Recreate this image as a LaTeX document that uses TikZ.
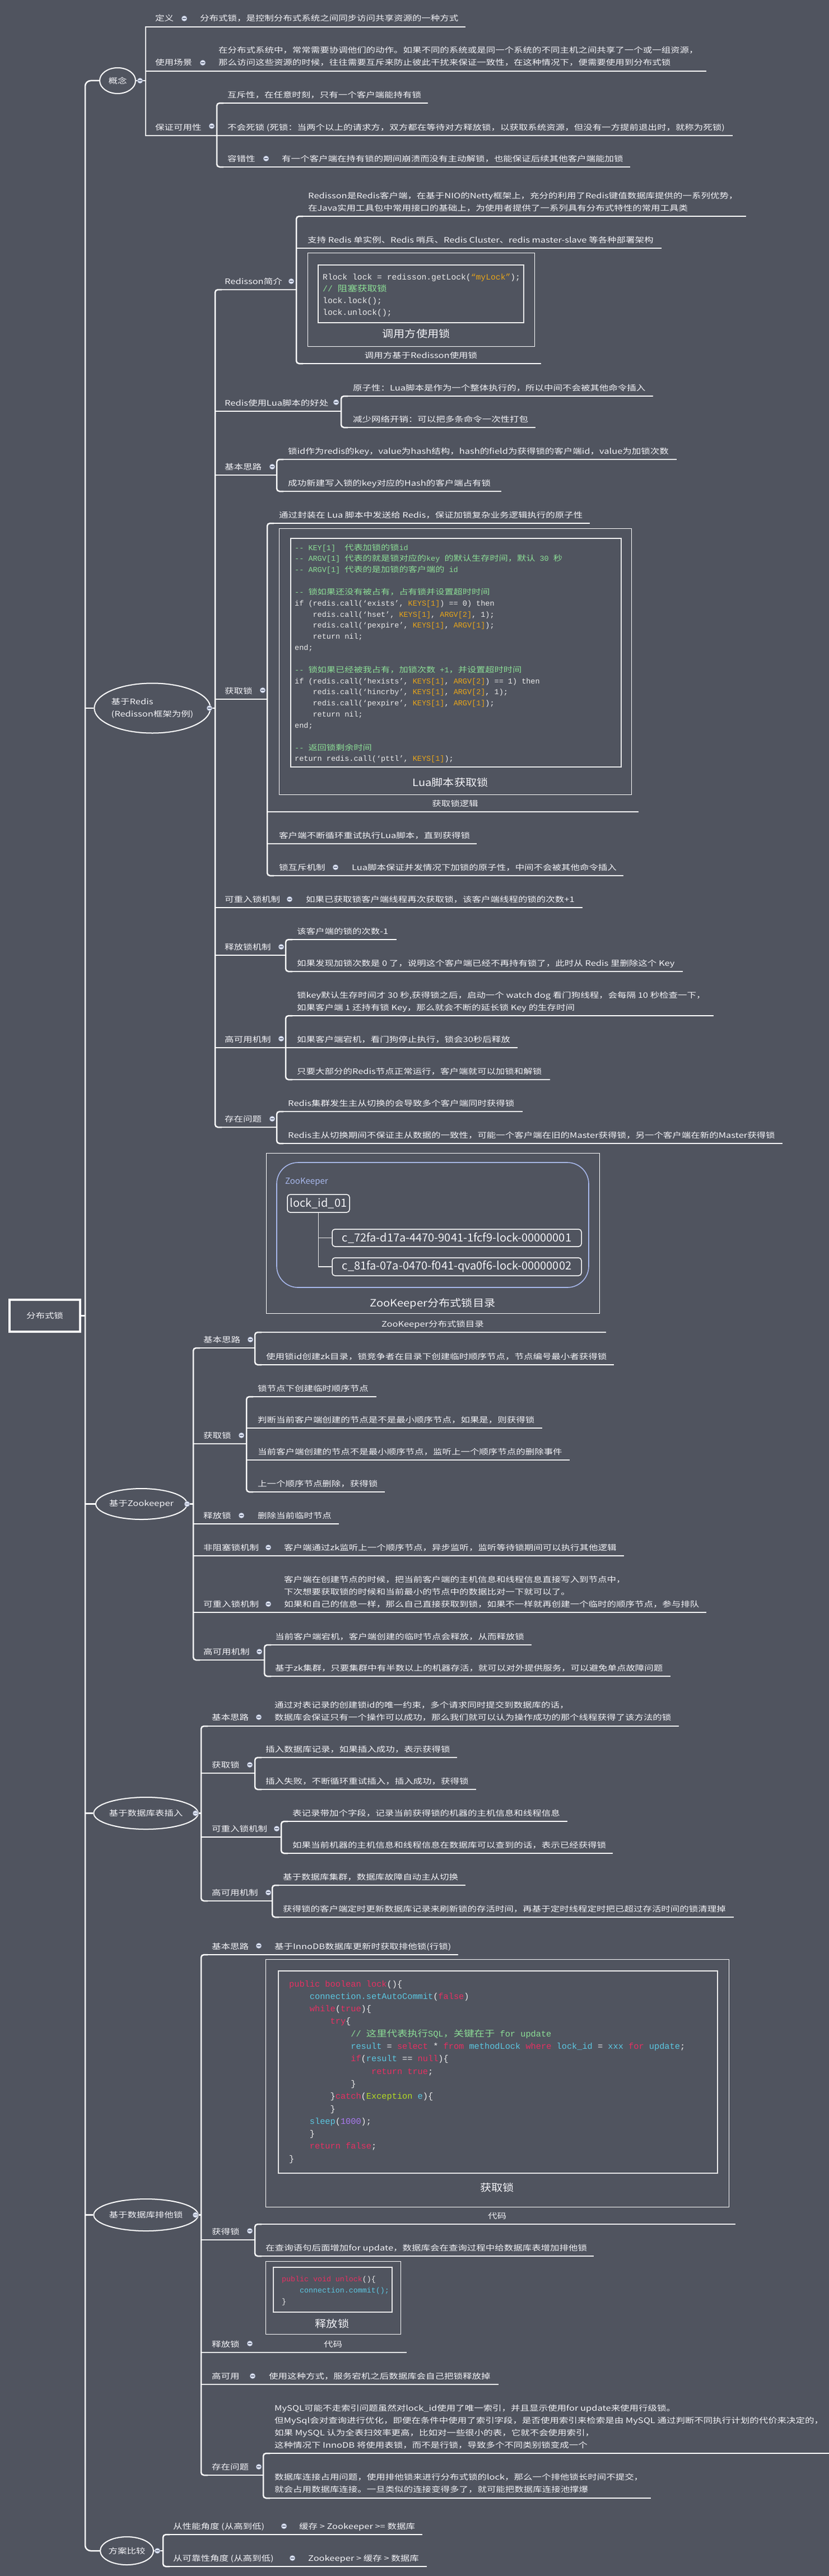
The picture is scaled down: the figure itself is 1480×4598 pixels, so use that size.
\documentclass[tikz,border=0pt]{standalone}
\usepackage{fontspec}
\usetikzlibrary{shapes.geometric}
\setmainfont{Noto Sans CJK SC}
\newfontfamily\cjk{Noto Sans CJK SC}[FakeStretch=1.22]
\newfontfamily\cjkcap{Noto Sans CJK SC}[FakeStretch=1.12]
\newfontfamily\cjkcode{Noto Sans CJK SC}[FakeStretch=1.2]
\newfontfamily\codef{Liberation Mono}
\definecolor{bg}{RGB}{80,84,95}
\definecolor{fg}{RGB}{243,243,247}
\definecolor{codefg}{RGB}{236,236,236}
\definecolor{cgreen}{RGB}{140,222,150}
\definecolor{corange}{RGB}{232,165,25}
\definecolor{cpink}{RGB}{232,48,98}
\definecolor{ccyan}{RGB}{92,200,226}
\definecolor{clime}{RGB}{180,220,35}
\definecolor{cpurple}{RGB}{170,122,240}
\definecolor{zkblue}{RGB}{168,184,236}
\definecolor{icf}{RGB}{224,230,245}
\definecolor{icd}{RGB}{110,118,140}
\newcommand\hlg[1]{\textcolor{cgreen}{#1}}
\newcommand\hlo[1]{\textcolor{corange}{#1}}
\newcommand\hlp[1]{\textcolor{cpink}{#1}}
\newcommand\hlc[1]{\textcolor{ccyan}{#1}}
\newcommand\hll[1]{\textcolor{clime}{#1}}
\newcommand\hlv[1]{\textcolor{cpurple}{#1}}
\newcommand\zh[1]{{\cjkcode #1}}
\newcommand\ia{\phantom{xxxx}}
\newcommand\UL[4]{\draw[uline] (#2,#3) -- (#1.east |- 0,#3) -- ++(#4,0);}
\newcommand\BR[3]{\draw[uline, rounded corners=5pt] (#1+12,#2) -- (#1,#2) -- (#1,#3) -- (#1+12,#3);}
\newcommand\IC[3]{\node[icon] (#1) at (#2,#3) {};}
\begin{document}
\begin{tikzpicture}[x=1pt,y=-1pt,
  uline/.style={draw=white, line width=2.5pt},
  txt/.style={font=\cjk\fontsize{13.5}{22}\selectfont, text=fg, inner sep=0pt, anchor=base west},
  captxt/.style={font=\cjkcap\fontsize{18}{22}\selectfont, text=fg, inner sep=0pt, anchor=base},
  circ/.style={ellipse, draw=white, line width=2pt, fill=bg, inner sep=0pt, align=left, font=\cjk\fontsize{13.5}{22}\selectfont, text=fg},
  rootbox/.style={draw=white, line width=3.2pt, fill=bg, inner sep=0pt, font=\cjk\fontsize{13.5}{22}\selectfont, text=fg},
  imgbox/.style={draw=white, line width=1pt, inner sep=0pt},
  codebox/.style={draw=white!88!gray, line width=1.8pt, inner sep=0pt},
  code/.style={inner sep=0pt, anchor=base west, text=codefg},
  zkframe/.style={draw=zkblue, line width=1.6pt, rounded corners=38pt, inner sep=0pt},
  zkbox/.style={draw=white, line width=1.5pt, rounded corners=5pt, inner sep=0pt, font=\fontsize{20}{22}\selectfont, text=fg},
  zklab/.style={font=\fontsize{15}{17}\selectfont, text=zkblue, anchor=base west, inner sep=0pt},
  zkline/.style={draw=white!85!gray, line width=1.5pt},
  icon/.style={circle, fill=icf, draw=icd, line width=0.6pt, minimum size=10pt, inner sep=0pt,
    path picture={\draw[icd, line width=1.3pt] ([xshift=2.3pt]path picture bounding box.west) -- ([xshift=-2.3pt]path picture bounding box.east);}}
]
\useasboundingbox (0,0) rectangle (1480,4598);
\fill[bg] (0,0) rectangle (1480,4598);

% ---------- root, trunk, main circles
\node[rootbox, minimum width=126pt, minimum height=57pt] (root) at (80,2348.5) {分布式锁};
\node[circ, minimum width=64pt, minimum height=46pt] (gn) at (210,144) {概念};
\node[circ, minimum width=186pt, minimum height=89pt] (rd) at (272,1264) {基于Redis\\(Redisson框架为例)};
\node[circ, minimum width=147pt, minimum height=55pt] (zk) at (252.5,2684.5) {基于Zookeeper};
\node[circ, minimum width=163pt, minimum height=57pt] (dbi) at (260.5,3236.5) {基于数据库表插入};
\node[circ, minimum width=163pt, minimum height=57pt] (dbx) at (260.5,3953.5) {基于数据库排他锁};
\node[circ, minimum width=95pt, minimum height=50pt] (cmp) at (226.5,4553) {方案比较};
\draw[uline, rounded corners=10pt] (gn.west) -- (152,144) -- (152,4553) -- (cmp.west);
\draw[uline] (root.east) -- (152,2348.5);
\draw[uline] (152,1264) -- (rd.west);
\draw[uline] (152,2684.5) -- (zk.west);
\draw[uline] (152,3236.5) -- (dbi.west);
\draw[uline] (152,3953.5) -- (dbx.west);

% ---------- 概念
\draw[uline] (gn.east) -- (260,144);
\draw[uline] (272,48) -- (260,48) -- (260,242) -- (272,242);
\IC{gni}{250}{144}
\node[txt] (a1) at (277,38) {定义};
\node[txt] (a1t) at (357,38) {分布式锁，是控制分布式系统之间同步访问共享资源的一种方式};
\IC{a1i}{329}{33}
\UL{a1t}{260}{48}{12}
\node[txt] (a2) at (277,117) {使用场景};
\node[txt] (a2t) at (390,95) {\vtop{\baselineskip=22pt\hbox{在分布式系统中，常常需要协调他们的动作。如果不同的系统或是同一个系统的不同主机之间共享了一个或一组资源，}\hbox{那么访问这些资源的时候，往往需要互斥来防止彼此干扰来保证一致性，在这种情况下，便需要使用到分布式锁}}};
\IC{a2i}{362}{112}
\UL{a2t}{260}{127}{14}
\node[txt] (a3) at (277,232) {保证可用性};
\IC{a3i}{378}{225}
\draw[uline] (260,242) -- (387,242);
\BR{387}{184}{298}
\node[txt] (a31) at (406,174) {互斥性，在任意时刻，只有一个客户端能持有锁};
\UL{a31}{393}{184}{12}
\node[txt] (a32) at (406,232) {不会死锁 (死锁：当两个以上的请求方，双方都在等待对方释放锁，以获取系统资源，但没有一方提前退出时，就称为死锁)};
\UL{a32}{387}{242}{14}
\node[txt] (a33) at (406,288) {容错性};
\IC{a33i}{475}{283}
\node[txt] (a33t) at (503,288) {有一个客户端在持有锁的期间崩溃而没有主动解锁，也能保证后续其他客户端能加锁};
\UL{a33t}{393}{298}{12}

% ---------- 基于Redis
\draw[uline] (rd.east) -- (384,1264);
\BR{384}{517}{2012}
\IC{rdi}{374}{1264}
% Redisson简介
\node[txt] (b1) at (401,507) {Redisson简介};
\IC{b1i}{520}{502}
\draw[uline] (390,517) -- (529,517);
\BR{529}{386}{649}
\node[txt] (b11) at (550,354) {\vtop{\baselineskip=22pt\hbox{Redisson是Redis客户端，在基于NIO的Netty框架上，充分的利用了Redis键值数据库提供的一系列优势，}\hbox{在Java实用工具包中常用接口的基础上，为使用者提供了一系列具有分布式特性的常用工具类}}};
\UL{b11}{535}{386}{14}
\node[txt] (b12) at (549,433) {支持 Redis 单实例、Redis 哨兵、Redis Cluster、redis master-slave 等各种部署架构};
\UL{b12}{529}{443}{14}
\node[imgbox, minimum width=405pt, minimum height=167pt] (b13img) at (751.5,534.5) {};
\node[codebox, minimum width=367pt, minimum height=103pt] (b13code) at (751.5,524.5) {};
\node[code, font=\codef\fontsize{14.7}{21}\selectfont] (b13c) at (576,499) {\vtop{\baselineskip=21pt
\hbox{Rlock lock = redisson.getLock(\hlo{“myLock”});}
\hbox{\hlg{// \zh{阻塞获取锁}}}
\hbox{lock.lock();}
\hbox{lock.unlock();}}};
\node[captxt] (b13cap) at (743,602) {调用方使用锁};
\node[txt, anchor=base] (b13) at (751.5,639) {调用方基于Redisson使用锁};
\draw[uline] (535,649) -- (b13img.east |- 0,649) -- ++(11,0);
% Lua好处
\node[txt] (b2) at (401,724) {Redis使用Lua脚本的好处};
\IC{b2i}{600}{718}
\draw[uline] (384,734) -- (609,734);
\BR{609}{707}{763}
\node[txt] (b21) at (630,697) {原子性：Lua脚本是作为一个整体执行的，所以中间不会被其他命令插入};
\UL{b21}{615}{707}{13}
\node[txt] (b22) at (630,753) {减少网络开销：可以把多条命令一次性打包};
\UL{b22}{615}{763}{13}
% 基本思路
\node[txt] (b3) at (401,838) {基本思路};
\IC{b3i}{486}{833}
\draw[uline] (384,848) -- (494,848);
\BR{494}{820}{877}
\node[txt] (b31) at (514,810) {锁id作为redis的key，value为hash结构，hash的field为获得锁的客户端id，value为加锁次数};
\UL{b31}{500}{820}{14}
\node[txt] (b32) at (514,867) {成功新建写入锁的key对应的Hash的客户端占有锁};
\UL{b32}{500}{877}{19}
% 获取锁
\node[txt] (b4) at (401,1238) {获取锁};
\IC{b4i}{469}{1232}
\draw[uline] (384,1248) -- (477,1248);
\BR{477}{934}{1563}
\node[txt] (b41) at (498,924) {通过封装在 Lua 脚本中发送给 Redis，保证加锁复杂业务逻辑执行的原子性};
\UL{b41}{483}{934}{12}
\node[imgbox, minimum width=629pt, minimum height=475pt] (b42img) at (812.5,1180.5) {};
\node[codebox, minimum width=590pt, minimum height=408pt] (b42code) at (814,1165) {};
\node[code, font=\codef\fontsize{13.5}{19.84}\selectfont] (b42c) at (526,982) {\vtop{\baselineskip=19.84pt
\hbox{\hlg{-{}- KEY[1]\ \ \zh{代表加锁的锁}id}}
\hbox{\hlg{-{}- ARGV[1] \zh{代表的就是锁对应的}key \zh{的默认生存时间，默认} 30 \zh{秒}}}
\hbox{\hlg{-{}- ARGV[1] \zh{代表的是加锁的客户端的} id}}
\hbox{}
\hbox{\hlg{-{}- \zh{锁如果还没有被占有，占有锁并设置超时时间}}}
\hbox{if (redis.call(‘exists’, \hlo{KEYS[1]}) == 0) then}
\hbox{\ia redis.call(‘hset’, \hlo{KEYS[1]}, \hlo{ARGV[2]}, 1);}
\hbox{\ia redis.call(‘pexpire’, \hlo{KEYS[1]}, \hlo{ARGV[1]});}
\hbox{\ia return nil;}
\hbox{end;}
\hbox{}
\hbox{\hlg{-{}- \zh{锁如果已经被我占有，加锁次数} +1\zh{，并设置超时时间}}}
\hbox{if (redis.call(‘hexists’, \hlo{KEYS[1]}, \hlo{ARGV[2]}) == 1) then}
\hbox{\ia redis.call(‘hincrby’, \hlo{KEYS[1]}, \hlo{ARGV[2]}, 1);}
\hbox{\ia redis.call(‘pexpire’, \hlo{KEYS[1]}, \hlo{ARGV[1]});}
\hbox{\ia return nil;}
\hbox{end;}
\hbox{}
\hbox{\hlg{-{}- \zh{返回锁剩余时间}}}
\hbox{return redis.call(‘pttl’, \hlo{KEYS[1]});}}};
\node[captxt] (b42cap) at (804,1403) {Lua脚本获取锁};
\node[txt, anchor=base] (b42) at (812.5,1439) {获取锁逻辑};
\draw[uline] (477,1449) -- (b42img.east |- 0,1449) -- ++(12,0);
\node[txt] (b43) at (498,1496) {客户端不断循环重试执行Lua脚本，直到获得锁};
\UL{b43}{477}{1506}{12}
\node[txt] (b44) at (498,1553) {锁互斥机制};
\IC{b44i}{599}{1548}
\node[txt] (b44t) at (628,1553) {Lua脚本保证并发情况下加锁的原子性，中间不会被其他命令插入};
\UL{b44t}{483}{1563}{12}
% 可重入锁机制
\node[txt] (b5) at (401,1610) {可重入锁机制};
\IC{b5i}{517}{1605}
\node[txt] (b5t) at (546,1610) {如果已获取锁客户端线程再次获取锁，该客户端线程的锁的次数+1};
\UL{b5t}{384}{1620}{14}
% 释放锁机制
\node[txt] (b6) at (401,1695) {释放锁机制};
\IC{b6i}{502}{1690}
\draw[uline] (384,1705) -- (510,1705);
\BR{510}{1677}{1734}
\node[txt] (b61) at (530,1667) {该客户端的锁的次数-1};
\UL{b61}{516}{1677}{15}
\node[txt] (b62) at (530,1724) {如果发现加锁次数是 0 了，说明这个客户端已经不再持有锁了，此时从 Redis 里删除这个 Key};
\UL{b62}{516}{1734}{14}
% 高可用机制
\node[txt] (b7) at (401,1860) {高可用机制};
\IC{b7i}{502}{1854}
\draw[uline] (384,1870) -- (510,1870);
\BR{510}{1813}{1927}
\node[txt] (b71) at (530,1781) {\vtop{\baselineskip=22pt\hbox{锁key默认生存时间才 30 秒,获得锁之后，启动一个 watch dog 看门狗线程，会每隔 10 秒检查一下，}\hbox{如果客户端 1 还持有锁 Key，那么就会不断的延长锁 Key 的生存时间}}};
\UL{b71}{516}{1813}{14}
\node[txt] (b72) at (530,1860) {如果客户端宕机，看门狗停止执行，锁会30秒后释放};
\UL{b72}{510}{1870}{13}
\node[txt] (b73) at (530,1917) {只要大部分的Redis节点正常运行，客户端就可以加锁和解锁};
\UL{b73}{516}{1927}{14}
% 存在问题
\node[txt] (b8) at (401,2002) {存在问题};
\IC{b8i}{486}{1997}
\draw[uline] (390,2012) -- (494,2012);
\BR{494}{1984}{2041}
\node[txt] (b81) at (514,1974) {Redis集群发生主从切换的会导致多个客户端同时获得锁};
\UL{b81}{500}{1984}{14}
\node[txt] (b82) at (514,2031) {Redis主从切换期间不保证主从数据的一致性，可能一个客户端在旧的Master获得锁，另一个客户端在新的Master获得锁};
\UL{b82}{500}{2041}{13}

% ---------- 基于Zookeeper
\draw[uline] (zk.east) -- (345,2684.5);
\BR{345}{2406}{2963}
\IC{zki}{334}{2684.5}
\node[txt] (c1) at (363,2396) {基本思路};
\IC{c1i}{447}{2391}
\draw[uline] (351,2406) -- (455,2406);
\BR{455}{2378}{2436}
\node[imgbox, minimum width=595pt, minimum height=286pt] (c11img) at (772.5,2201) {};
\node[zkframe, minimum width=557pt, minimum height=223pt] (c11fr) at (772.5,2186.5) {};
\node[zklab] (c11zk) at (509,2113) {ZooKeeper};
\node[zkbox, minimum width=111pt, minimum height=32pt] (lk) at (568.5,2148) {lock\_id\_01};
\node[zkbox, minimum width=445pt, minimum height=31pt] (lc1) at (815.5,2209.5) {c\_72fa-d17a-4470-9041-1fcf9-lock-00000001};
\node[zkbox, minimum width=445pt, minimum height=32pt] (lc2) at (815.5,2261) {c\_81fa-07a-0470-f041-qva0f6-lock-00000002};
\draw[zkline] (lk.south) |- (lc1.west);
\draw[zkline] (lk.south) |- (lc2.west);
\node[captxt] (c11cap) at (772.5,2332) {ZooKeeper分布式锁目录};
\node[txt, anchor=base] (c11) at (772.5,2368) {ZooKeeper分布式锁目录};
\draw[uline] (461,2378) -- (c11img.east |- 0,2378) -- ++(11,0);
\node[txt] (c12) at (475,2426) {使用锁id创建zk目录，锁竞争者在目录下创建临时顺序节点，节点编号最小者获得锁};
\UL{c12}{461}{2436}{12}
% 获取锁
\node[txt] (c2) at (363,2567) {获取锁};
\IC{c2i}{431}{2562}
\draw[uline] (345,2577) -- (440,2577);
\BR{440}{2493}{2663}
\node[txt] (c21) at (460,2483) {锁节点下创建临时顺序节点};
\UL{c21}{446}{2493}{14}
\node[txt] (c22) at (460,2539) {判断当前客户端创建的节点是不是最小顺序节点，如果是，则获得锁};
\UL{c22}{440}{2549}{13}
\node[txt] (c23) at (460,2596) {当前客户端创建的节点不是最小顺序节点，监听上一个顺序节点的删除事件};
\UL{c23}{440}{2606}{13}
\node[txt] (c24) at (460,2653) {上一个顺序节点删除，获得锁};
\UL{c24}{446}{2663}{12}
% 释放锁
\node[txt] (c3) at (363,2710) {释放锁};
\IC{c3i}{431}{2705}
\node[txt] (c3t) at (460,2710) {删除当前临时节点};
\UL{c3t}{345}{2720}{13}
% 非阻塞锁机制
\node[txt] (c4) at (363,2767) {非阻塞锁机制};
\IC{c4i}{479}{2762}
\node[txt] (c4t) at (507,2767) {客户端通过zk监听上一个顺序节点，异步监听，监听等待锁期间可以执行其他逻辑};
\UL{c4t}{345}{2777}{13}
% 可重入锁机制
\node[txt] (c5) at (363,2868) {可重入锁机制};
\IC{c5i}{479}{2863}
\node[txt] (c5t) at (507,2824) {\vtop{\baselineskip=22pt\hbox{客户端在创建节点的时候，把当前客户端的主机信息和线程信息直接写入到节点中，}\hbox{下次想要获取锁的时候和当前最小的节点中的数据比对一下就可以了。}\hbox{如果和自己的信息一样，那么自己直接获取到锁，如果不一样就再创建一个临时的顺序节点，参与排队}}};
\UL{c5t}{345}{2878}{12}
% 高可用机制
\node[txt] (c6) at (363,2953) {高可用机制};
\IC{c6i}{463}{2948}
\draw[uline] (351,2963) -- (472,2963);
\BR{472}{2936}{2992}
\node[txt] (c61) at (491,2926) {当前客户端宕机，客户端创建的临时节点会释放，从而释放锁};
\UL{c61}{478}{2936}{13}
\node[txt] (c62) at (491,2982) {基于zk集群，只要集群中有半数以上的机器存活，就可以对外提供服务，可以避免单点故障问题};
\UL{c62}{478}{2992}{13}

% ---------- 基于数据库表插入
\draw[uline] (dbi.east) -- (359,3236.5);
\BR{359}{3081}{3393}
\IC{dbii}{349}{3236.5}
\node[txt] (d1) at (378,3070) {基本思路};
\IC{d1i}{462}{3065}
\node[txt] (d1t) at (490,3048) {\vtop{\baselineskip=22pt\hbox{通过对表记录的创建锁id的唯一约束，多个请求同时提交到数据库的话，}\hbox{数据库会保证只有一个操作可以成功，那么我们就可以认为操作成功的那个线程获得了该方法的锁}}};
\UL{d1t}{365}{3081}{13}
\node[txt] (d2) at (378,3155) {获取锁};
\IC{d2i}{446}{3150}
\draw[uline] (359,3165) -- (455,3165);
\BR{455}{3137}{3194}
\node[txt] (d21) at (474,3127) {插入数据库记录，如果插入成功，表示获得锁};
\UL{d21}{461}{3137}{12}
\node[txt] (d22) at (474,3184) {插入失败，不断循环重试插入，插入成功，获得锁};
\UL{d22}{461}{3194}{13}
\node[txt] (d3) at (378,3269) {可重入锁机制};
\IC{d3i}{494}{3264}
\draw[uline] (359,3279) -- (502,3279);
\BR{502}{3251}{3308}
\node[txt] (d31) at (522,3241) {表记录带加个字段，记录当前获得锁的机器的主机信息和线程信息};
\UL{d31}{508}{3251}{13}
\node[txt] (d32) at (522,3298) {如果当前机器的主机信息和线程信息在数据库可以查到的话，表示已经获得锁};
\UL{d32}{508}{3308}{12}
\node[txt] (d4) at (378,3383) {高可用机制};
\IC{d4i}{479}{3378}
\draw[uline] (365,3393) -- (486,3393);
\BR{486}{3365}{3422}
\node[txt] (d41) at (505,3355) {基于数据库集群，数据库故障自动主从切换};
\UL{d41}{492}{3365}{13}
\node[txt] (d42) at (505,3412) {获得锁的客户端定时更新数据库记录来刷新锁的存活时间，再基于定时线程定时把已超过存活时间的锁清理掉};
\UL{d42}{492}{3422}{14}

% ---------- 基于数据库排他锁
\draw[uline] (dbx.east) -- (359,3953.5);
\BR{359}{3489}{4418}
\IC{dbxi}{349}{3953.5}
\node[txt] (e1) at (378,3479) {基本思路};
\IC{e1i}{462}{3473}
\node[txt] (e1t) at (490,3479) {基于InnoDB数据库更新时获取排他锁(行锁)};
\UL{e1t}{365}{3489}{12}
\node[txt] (e2) at (378,3988) {获得锁};
\IC{e2i}{446}{3982}
\draw[uline] (359,3998) -- (455,3998);
\BR{455}{3970}{4027}
\node[imgbox, minimum width=827pt, minimum height=442pt] (e21img) at (887.5,3718) {};
\node[codebox, minimum width=784pt, minimum height=361pt] (e21code) at (889,3698.5) {};
\node[code, font=\codef\fontsize{15.3}{22.3}\selectfont] (e21c) at (516,3546) {\vtop{\baselineskip=22.3pt
\hbox{\hlp{public boolean lock}()\{}
\hbox{\ia\hlc{connection.setAutoCommit}(\hlp{false})}
\hbox{\ia\hlp{while}(\hlp{true})\{}
\hbox{\ia\ia\hlp{try}\{}
\hbox{\ia\ia\ia\hlg{// \zh{这里代表执行}SQL\zh{，关键在于} for update}}
\hbox{\ia\ia\ia\hlc{result} = \hlp{select} * \hlp{from} \hlc{methodLock} \hlp{where} \hlc{lock\_id} = \hlc{xxx} \hlp{for} \hlc{update};}
\hbox{\ia\ia\ia\hlp{if}(\hlc{result} == \hlp{null})\{}
\hbox{\ia\ia\ia\ia\hlp{return true};}
\hbox{\ia\ia\ia\}}
\hbox{\ia\ia\}\hlp{catch}(\hll{Exception} \hlc{e})\{}
\hbox{\ia\ia\}}
\hbox{\ia\hlc{sleep}(\hlv{1000});}
\hbox{\ia\}}
\hbox{\ia\hlp{return false};}
\hbox{\}}}};
\node[captxt] (e21cap) at (887.5,3911) {获取锁};
\node[txt, anchor=base] (e21) at (887.5,3960) {代码};
\draw[uline] (461,3970) -- (e21img.east |- 0,3970) -- ++(11,0);
\node[txt] (e22) at (474,4017) {在查询语句后面增加for update，数据库会在查询过程中给数据库表增加排他锁};
\UL{e22}{461}{4027}{12}
\node[txt] (e3) at (378,4189) {释放锁};
\IC{e3i}{446}{4183}
\node[imgbox, minimum width=241pt, minimum height=130pt] (e31img) at (594.5,4101) {};
\node[codebox, minimum width=212pt, minimum height=80pt] (e31code) at (594,4087) {};
\node[code, font=\codef\fontsize{13.3}{20}\selectfont] (e31c) at (503,4072) {\vtop{\baselineskip=20pt
\hbox{\hlp{public void unlock}()\{}
\hbox{\ia\hlc{connection.commit();}}
\hbox{\}}}};
\node[captxt] (e31cap) at (593,4154) {释放锁};
\node[txt, anchor=base] (e31) at (594.5,4189) {代码};
\draw[uline] (359,4199) -- (e31img.east |- 0,4199) -- ++(10,0);
\node[txt] (e4) at (378,4246) {高可用};
\IC{e4i}{451}{4241}
\node[txt] (e4t) at (480,4246) {使用这种方式，服务宕机之后数据库会自己把锁释放掉};
\UL{e4t}{359}{4256}{14}
\node[txt] (e5) at (378,4408) {存在问题};
\IC{e5i}{462}{4403}
\draw[uline] (365,4418) -- (470,4418);
\BR{470}{4379}{4459}
\node[txt] (e51) at (490,4303) {\vtop{\baselineskip=22pt\hbox{MySQL可能不走索引问题虽然对lock\_id使用了唯一索引，并且显示使用for update来使用行级锁。}\hbox{但MySql会对查询进行优化，即便在条件中使用了索引字段，是否使用索引来检索是由 MySQL 通过判断不同执行计划的代价来决定的，}\hbox{如果 MySQL 认为全表扫效率更高，比如对一些很小的表，它就不会使用索引，}\hbox{这种情况下 InnoDB 将使用表锁，而不是行锁，导致多个不同类别锁变成一个}}};
\UL{e51}{476}{4379}{14}
\node[txt] (e52) at (490,4426) {\vtop{\baselineskip=22pt\hbox{数据库连接占用问题，使用排他锁来进行分布式锁的lock，那么一个排他锁长时间不提交，}\hbox{就会占用数据库连接。一旦类似的连接变得多了，就可能把数据库连接池撑爆}}};
\UL{e52}{476}{4459}{14}

% ---------- 方案比较
\draw[uline] (cmp.east) -- (291,4553);
\BR{291}{4524}{4581}
\IC{cmpi}{281}{4553}
\node[txt] (f1) at (309,4514) {从性能角度 (从高到低)};
\IC{f1i}{507}{4509}
\node[txt] (f1t) at (534,4514) {缓存 > Zookeeper >= 数据库};
\UL{f1t}{297}{4524}{13}
\node[txt] (f2) at (309,4571) {从可靠性角度 (从高到低)};
\IC{f2i}{522}{4566}
\node[txt] (f2t) at (550,4571) {Zookeeper > 缓存 > 数据库};
\UL{f2t}{297}{4581}{14}
\end{tikzpicture}
\end{document}
